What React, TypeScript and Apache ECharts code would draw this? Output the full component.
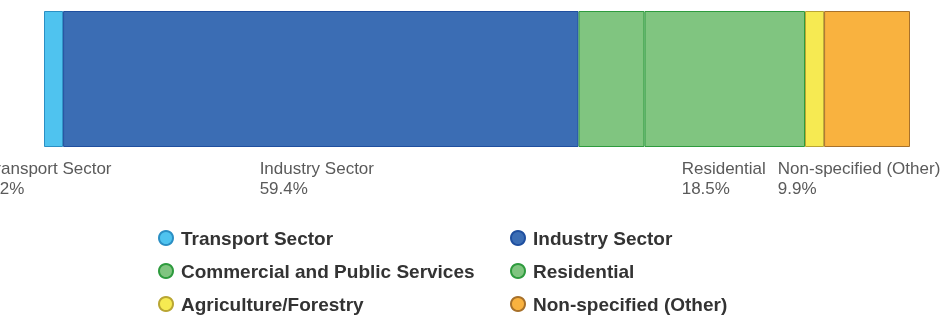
import React, { useEffect, useRef } from 'react';
import * as echarts from 'echarts';

const categories = [
  'Transport Sector',
  'Industry Sector',
  'Commercial and Public Services',
  'Residential',
  'Agriculture/Forestry',
  'Non-specified (Other)',
];
const shares = [2.2, 59.4, 7.6, 18.5, 2.2, 9.9];
const fillColors = ['#4fc3ef', '#3b6db4', '#80c580', '#80c580', '#f6ea52', '#f9b23f'];
const borderColors = ['#2b8fc4', '#1f4f9f', '#2e9b3e', '#2e9b3e', '#b9a633', '#a8712a'];
const labelShown = [true, true, false, true, false, true];
const labelShiftX = [-5, -4, 0, -1, 0, -8];
const legendLeftColumn = ['Transport Sector', 'Commercial and Public Services', 'Agriculture/Forestry'];
const legendRightColumn = ['Industry Sector', 'Residential', 'Non-specified (Other)'];

const FONT = '"Liberation Sans", Arial, Helvetica, sans-serif';

export default function App() {
  const ref = useRef<HTMLDivElement>(null);
  useEffect(() => {
    if (!ref.current) return;
    const chart = echarts.init(ref.current, undefined, { renderer: 'svg' });
    const total = shares.reduce((a, b) => a + b, 0);
    const legendBase = {
      orient: 'vertical' as const,
      top: 228,
      height: 120,
      padding: 0,
      itemWidth: 14,
      itemHeight: 14,
      itemGap: 13,
      icon: 'circle',
      selectedMode: false,
      textStyle: {
        fontSize: 19,
        fontWeight: 'bold' as const,
        color: '#333',
        lineHeight: 20,
        fontFamily: FONT,
        padding: [0, 0, 0, 3],
      },
    };
    chart.setOption({
      animation: false,
      grid: { left: 44, right: 37, top: 11, height: 136 },
      xAxis: { type: 'value', min: 0, max: total, show: false },
      yAxis: { type: 'category', data: ['Total'], show: false },
      legend: [
        { ...legendBase, left: 158, data: legendLeftColumn },
        { ...legendBase, left: 510, data: legendRightColumn },
      ],
      series: categories.map((name, i) => ({
        name,
        type: 'bar',
        stack: 'total',
        barWidth: '100%',
        data: [shares[i]],
        itemStyle: { color: fillColors[i], borderColor: borderColors[i], borderWidth: 1 },
        label: {
          show: labelShown[i],
          position: 'bottom',
          distance: 11,
          offset: [labelShiftX[i], 0],
          formatter: (p: any) => `{n|${p.seriesName}}\n{n|${p.value}%}`,
          rich: {
            n: { align: 'left', fontSize: 17, lineHeight: 20, color: '#5a5a5a', fontFamily: FONT },
          },
        },
      })),
    });
    return () => chart.dispose();
  }, []);
  return <div ref={ref} style={{ position: 'fixed', left: 0, top: 0, width: 947, height: 320 }} />;
}
